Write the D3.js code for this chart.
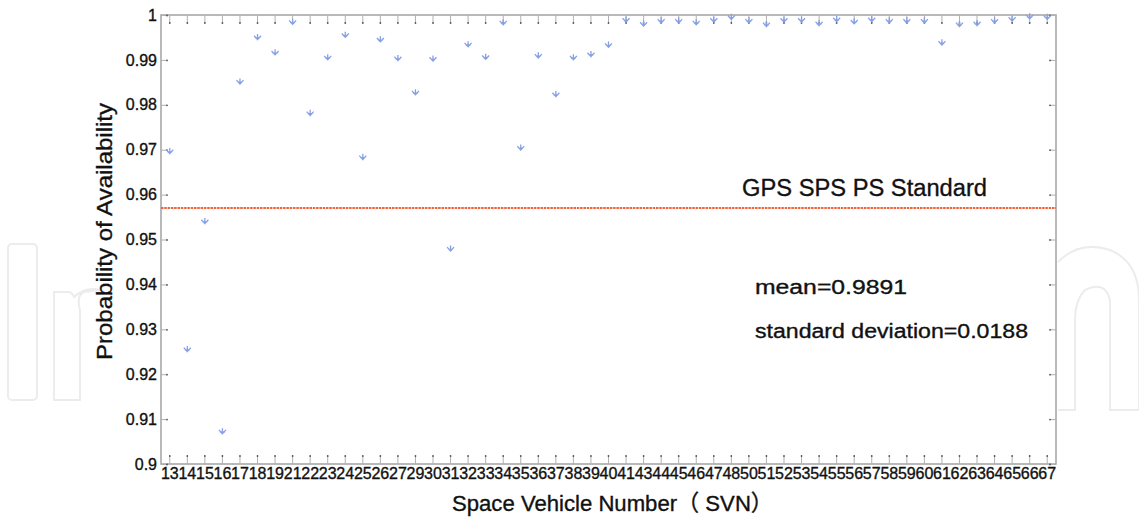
<!DOCTYPE html>
<html><head><meta charset="utf-8">
<script src="https://cdn.jsdelivr.net/npm/d3@7/dist/d3.min.js"></script>
<style>
html,body{margin:0;padding:0;background:#fff;}
svg{display:block;font-family:"Liberation Sans",Arial,"Noto Sans CJK SC",sans-serif;}
svg text{stroke:#111;stroke-width:0.35px;}
</style></head>
<body>
<svg id="chart" width="1139" height="520"></svg>
<script>
const svn = [13,14,15,16,17,18,19,21,22,23,24,25,26,27,29,30,31,32,33,34,35,36,37,38,39,40,41,43,44,45,46,47,48,50,51,52,53,54,55,56,57,58,59,60,61,62,63,64,65,66,67];
const availability = [0.9696,0.9255,0.9540,0.9072,0.9851,0.9950,0.9916,0.9984,0.9781,0.9905,0.9955,0.9683,0.9945,0.9903,0.9827,0.9902,0.9479,0.9934,0.9906,0.9983,0.9704,0.9909,0.9823,0.9905,0.9912,0.9933,0.9989,0.9980,0.9987,0.9987,0.9983,0.9989,0.9995,0.9987,0.9979,0.9989,0.9989,0.9981,0.9990,0.9985,0.9990,0.9987,0.9987,0.9987,0.9938,0.9979,0.9981,0.9987,0.9991,0.9996,0.9995];
const yTicks = [0.9,0.91,0.92,0.93,0.94,0.95,0.96,0.97,0.98,0.99,1];
const standardValue = 0.957;
const annotations = ["GPS SPS PS Standard","mean=0.9891","standard deviation=0.0188"];
const xTitle = "Space Vehicle Number（ SVN）";
const yTitle = "Probability of Availability";

const svg = d3.select("#chart");
const L = 161, R = 1056, T = 15, B = 464;

// faint watermark outlines
const wm = svg.append("g").attr("fill","none").attr("stroke","#ececec").attr("stroke-width",2);
wm.append("rect").attr("x",8).attr("y",244).attr("width",29).attr("height",156).attr("rx",4);
wm.append("path").attr("d","M54,400 L54,292 L68,292 Q72,292 74,297 Q86,286 100,290 L84,292 Q76,296 80,310 L80,400 Z");
wm.append("path").attr("d","M1058,262 Q1080,240 1110,250 Q1139,262 1139,300 L1139,410 L1110,410 L1110,300 Q1105,280 1085,290 Q1075,300 1075,320 L1075,410 L1058,410");

const x = d3.scaleBand().domain(svn).range([L, R]).padding(0);
const cx = d => x(d) + x.bandwidth()/2;
const y = d3.scaleLinear().domain([0.9, 1]).range([B, T]);

svg.append("rect").attr("x",L).attr("y",T).attr("width",R-L).attr("height",B-T)
  .attr("fill","#fff").attr("stroke","#a8a8a8").attr("stroke-width",1.6);

function styleAxis(g){
  g.select(".domain").remove();
  g.selectAll(".tick line").attr("stroke","#b0b0b0").attr("stroke-width",1);
  g.selectAll("text").attr("fill","#111").style("font-size","16px");
}
const tickLen = 8;
const gB = svg.append("g").attr("transform",`translate(0,${B})`)
  .call(d3.axisBottom(x).tickSize(-tickLen).tickPadding(4).tickFormat(d=>String(d)));
styleAxis(gB);
gB.selectAll(".tick").append("circle").attr("cy",-tickLen).attr("r",0.9).attr("fill","#555");
const gT = svg.append("g").attr("transform",`translate(0,${T})`)
  .call(d3.axisTop(x).tickSize(-tickLen).tickFormat(""));
styleAxis(gT);
gT.selectAll(".tick").append("circle").attr("cy",tickLen).attr("r",0.9).attr("fill","#555");
const gL = svg.append("g").attr("transform",`translate(${L},0)`)
  .call(d3.axisLeft(y).tickValues(yTicks).tickSize(-6).tickPadding(4).tickFormat(d=>String(+d.toFixed(2))));
styleAxis(gL);
gL.selectAll(".tick").append("circle").attr("cx",6).attr("r",0.9).attr("fill","#555");
const gR = svg.append("g").attr("transform",`translate(${R},0)`)
  .call(d3.axisRight(y).tickValues(yTicks).tickSize(-6).tickFormat(""));
styleAxis(gR);
gR.selectAll(".tick").append("circle").attr("cx",-6).attr("r",0.9).attr("fill","#555");

svg.append("line").attr("x1",L).attr("x2",R).attr("y1",y(standardValue)).attr("y2",y(standardValue))
  .attr("stroke","#f26438").attr("stroke-width",2).attr("stroke-dasharray","2.5,0.8");

const pts = svg.append("g").attr("stroke","#86a0e6").attr("stroke-width",1.3).attr("fill","none");
svn.forEach((s,i)=>{
  const px = cx(s), py = y(availability[i]);
  const g = pts.append("g").attr("transform",`translate(${px},${py})`);
  const r = 3.5;
  g.append("path").attr("d",`M${-r},${-r*0.5} L0,${r*0.6} L${r},${-r*0.5} M0,${-r} L0,${r*0.8} M${-r*0.7},${r*0.1} L${r*0.7},${r*0.1}`);
});

svg.append("text").attr("x",742).attr("y",196).attr("font-size",23).attr("fill","#111")
  .attr("textLength",245).attr("lengthAdjust","spacingAndGlyphs").text(annotations[0]);
svg.append("text").attr("x",755).attr("y",293.5).attr("font-size",20).attr("fill","#111")
  .attr("textLength",152).attr("lengthAdjust","spacingAndGlyphs").text(annotations[1]);
svg.append("text").attr("x",755).attr("y",338).attr("font-size",20).attr("fill","#111")
  .attr("textLength",273).attr("lengthAdjust","spacingAndGlyphs").text(annotations[2]);

svg.append("text").attr("x",452).attr("y",511).attr("font-size",22.5).attr("fill","#111")
  .attr("textLength",321).attr("lengthAdjust","spacingAndGlyphs").text(xTitle);
svg.append("text").attr("transform","translate(112,360) rotate(-90)").attr("font-size",22.5).attr("fill","#111")
  .attr("textLength",257).attr("lengthAdjust","spacingAndGlyphs").text(yTitle);
</script>
</body></html>
